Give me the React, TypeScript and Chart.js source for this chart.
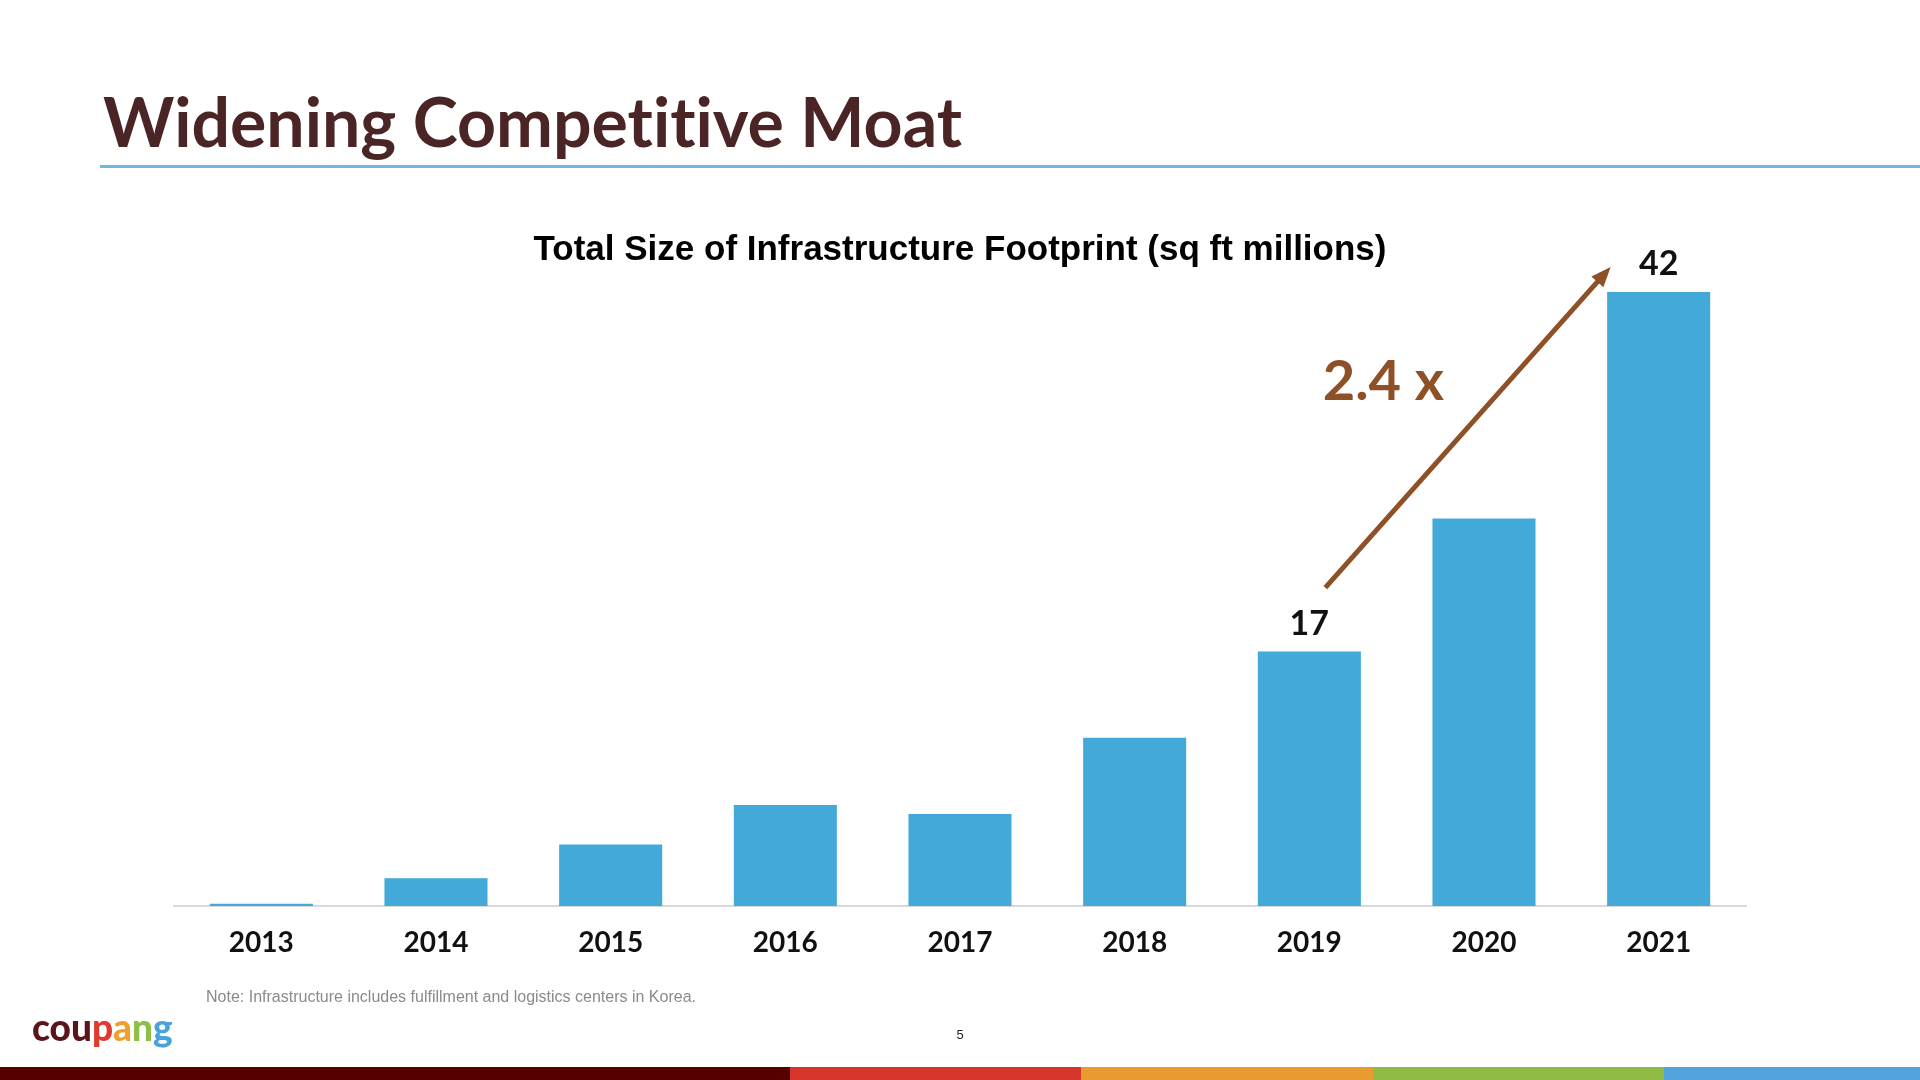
import React, { useEffect, useRef } from 'react';
import { Chart, registerables } from 'chart.js';

Chart.register(...registerables);

// ---- data ----
const years: string[] = ['2013', '2014', '2015', '2016', '2017', '2018', '2019', '2020', '2021'];
const footprint: number[] = [0.15, 1.9, 4.2, 6.9, 6.3, 11.5, 17.4, 26.5, 42];
const labeledYears: string[] = ['2019', '2021'];
const arrowFrom = '2019';
const arrowTo = '2021';
const growthText = '2.4 x';
const chartTitle = 'Total Size of Infrastructure Footprint (sq ft millions)';
const slideTitle = 'Widening Competitive Moat';
const noteText = 'Note: Infrastructure includes fulfillment and logistics centers in Korea.';
const pageNumber = '5';
const logoParts: string[] = ['cou', 'p', 'a', 'n', 'g'];
const logoColors: string[] = ['#5b1519', '#e0392e', '#f0a02e', '#8cbf45', '#4aa3dc'];
const stripeColors: string[] = ['#560000', '#d6352b', '#e99b30', '#8dbb43', '#52a5dc'];
const stripeWidths: number[] = [790, 291, 292, 291, 256];

const BAR_COLOR = '#42a9d8';
const ARROW_COLOR = '#8e5026';

const annotationPlugin = {
  id: 'slideAnnotations',
  afterDatasetsDraw(chart: any) {
    const ctx = chart.ctx as CanvasRenderingContext2D;
    const meta = chart.getDatasetMeta(0);
    ctx.save();
    // value labels
    ctx.font = "bold 34px Lato, 'Liberation Sans', sans-serif";
    ctx.fillStyle = '#111111';
    ctx.textAlign = 'center';
    ctx.textBaseline = 'middle';
    years.forEach((y, i) => {
      if (labeledYears.includes(y)) {
        const el = meta.data[i];
        ctx.fillText(String(Math.round(footprint[i])), el.x, el.y - 28);
      }
    });
    // arrow
    const a = meta.data[years.indexOf(arrowFrom)];
    const b = meta.data[years.indexOf(arrowTo)];
    const sx = a.x + 16;
    const sy = a.y - 64;
    const ex = b.x - 48;
    const ey = b.y - 25;
    const ang = Math.atan2(ey - sy, ex - sx);
    const headLen = 20;
    const headHalf = 8;
    const bx = ex - headLen * Math.cos(ang);
    const by = ey - headLen * Math.sin(ang);
    ctx.strokeStyle = ARROW_COLOR;
    ctx.lineWidth = 5;
    ctx.lineCap = 'butt';
    ctx.beginPath();
    ctx.moveTo(sx, sy);
    ctx.lineTo(bx + 2 * Math.cos(ang), by + 2 * Math.sin(ang));
    ctx.stroke();
    ctx.fillStyle = ARROW_COLOR;
    ctx.beginPath();
    ctx.moveTo(ex, ey);
    ctx.lineTo(bx + headHalf * Math.sin(ang), by - headHalf * Math.cos(ang));
    ctx.lineTo(bx - headHalf * Math.sin(ang), by + headHalf * Math.cos(ang));
    ctx.closePath();
    ctx.fill();
    // growth text
    ctx.font = "bold 56px Lato, 'Liberation Sans', sans-serif";
    ctx.fillStyle = ARROW_COLOR;
    ctx.textAlign = 'center';
    ctx.textBaseline = 'middle';
    ctx.fillText(growthText, sx + 58, sy - 206);
    ctx.restore();
  },
};

function FootprintChart() {
  const ref = useRef<HTMLCanvasElement | null>(null);
  useEffect(() => {
    if (!ref.current) return;
    const chart = new Chart(ref.current, {
      type: 'bar',
      data: {
        labels: years,
        datasets: [
          {
            data: footprint,
            backgroundColor: BAR_COLOR,
            borderWidth: 0,
            categoryPercentage: 1,
            barPercentage: 0.59,
          },
        ],
      },
      options: {
        animation: false,
        responsive: false,
        maintainAspectRatio: false,
        layout: { padding: { left: 174, right: 174, top: 0, bottom: 94 } },
        plugins: {
          legend: { display: false },
          tooltip: { enabled: false },
          title: {
            display: true,
            text: chartTitle,
            color: '#000000',
            font: { family: "'Liberation Sans', Arial, sans-serif", size: 35, weight: 'bold' },
            padding: { top: 229, bottom: 0 },
          },
        },
        scales: {
          x: {
            grid: { display: false, drawTicks: false },
            border: { display: true, color: '#d9d9d9', width: 2 },
            ticks: {
              color: '#111111',
              padding: 20,
              font: { family: "Lato, 'Liberation Sans', sans-serif", size: 28, weight: 'bold' },
            },
            afterFit: (scale: any) => {
              scale.height = 80;
            },
          },
          y: {
            display: false,
            min: 0,
            max: 43.43,
          },
        },
      },
      plugins: [annotationPlugin],
    });
    return () => chart.destroy();
  }, []);
  return (
    <canvas
      ref={ref}
      width={1920}
      height={1080}
      style={{ position: 'absolute', left: 0, top: 0, width: 1920, height: 1080 }}
    />
  );
}

export default function App() {
  let acc = 0;
  return (
    <div
      style={{
        position: 'fixed',
        left: 0,
        top: 0,
        width: 1920,
        height: 1080,
        background: '#ffffff',
        overflow: 'hidden',
      }}
    >
      <div
        style={{
          position: 'absolute',
          left: 103,
          top: 87,
          fontFamily: "Lato, 'Liberation Sans', sans-serif",
          fontWeight: 700,
          fontSize: 68,
          lineHeight: '68px',
          fontVariantLigatures: 'none',
          color: '#4b2525',
          whiteSpace: 'nowrap',
        }}
      >
        {slideTitle}
      </div>
      <div
        style={{ position: 'absolute', left: 100, top: 165, width: 1820, height: 3, background: '#73b8dc' }}
      />
      <FootprintChart />
      <div
        style={{
          position: 'absolute',
          left: 206,
          top: 988,
          fontFamily: "'Liberation Sans', Arial, sans-serif",
          fontSize: 16,
          lineHeight: '18px',
          color: '#8a8a8a',
          whiteSpace: 'nowrap',
        }}
      >
        {noteText}
      </div>
      <div
        style={{
          position: 'absolute',
          left: 32,
          top: 1005,
          fontFamily: "Lato, 'Liberation Sans', sans-serif",
          fontWeight: 900,
          fontSize: 37,
          lineHeight: '44px',
          whiteSpace: 'nowrap',
        }}
      >
        {logoParts.map((p, i) => (
          <span key={i} style={{ color: logoColors[i] }}>
            {p}
          </span>
        ))}
      </div>
      <div
        style={{
          position: 'absolute',
          left: 940,
          width: 40,
          top: 1027,
          textAlign: 'center',
          fontFamily: "'Liberation Sans', Arial, sans-serif",
          fontSize: 13,
          lineHeight: '16px',
          color: '#222222',
        }}
      >
        {pageNumber}
      </div>
      {stripeColors.map((c, i) => {
        const left = acc;
        acc += stripeWidths[i];
        return (
          <div
            key={i}
            style={{ position: 'absolute', left, top: 1067, width: stripeWidths[i], height: 13, background: c }}
          />
        );
      })}
    </div>
  );
}
